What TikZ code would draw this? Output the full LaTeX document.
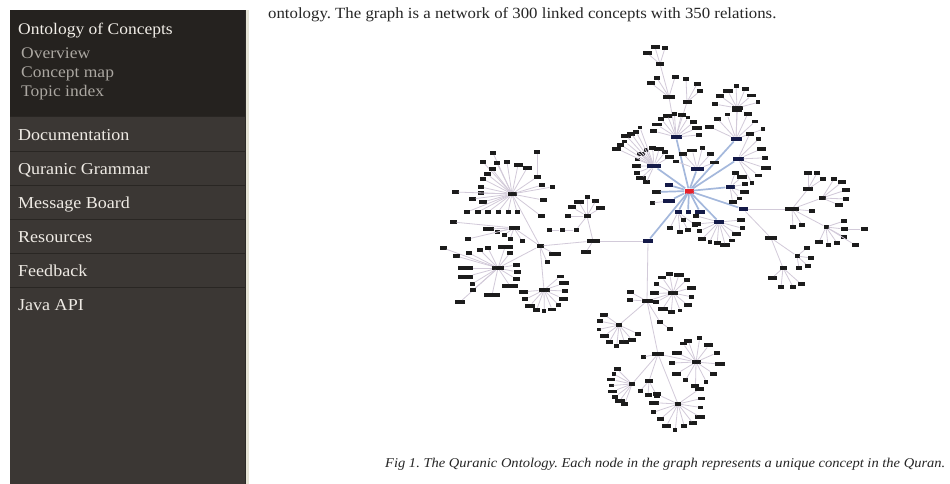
\documentclass[tikz,border=0pt]{standalone}
\usepackage{fontspec}
\setmainfont{Liberation Serif}[FakeStretch=1.08]
\usetikzlibrary{calc}
\frenchspacing

\definecolor{hdbg}{HTML}{25221F}
\definecolor{itbg}{HTML}{3B3734}
\definecolor{sepc}{HTML}{292623}
\definecolor{rimdark}{HTML}{2D2A27}
\definecolor{rimlight}{HTML}{E6E4D6}
\definecolor{headc}{HTML}{F2EEE8}
\definecolor{subc}{HTML}{ABA7A1}
\definecolor{itemc}{HTML}{EEEAE4}
\definecolor{bodyc}{HTML}{262626}
\definecolor{leafc}{HTML}{1C1C1C}
\definecolor{navyc}{HTML}{141A48}
\definecolor{redc}{HTML}{E8202A}
\definecolor{linkc}{HTML}{D2CAD9}
\definecolor{spokec}{HTML}{A4B8DC}

\tikzset{
  leaf/.style={rectangle, fill=leafc, inner sep=0pt, minimum height=3.8, minimum width=7},
  navy/.style={rectangle, fill=navyc, inner sep=0pt, minimum height=4.6, minimum width=11},
  rootn/.style={rectangle, fill=redc, inner sep=0pt, minimum height=5, minimum width=9},
  link/.style={draw=linkc, line width=0.8},
  spoke/.style={draw=spokec, line width=1.7},
  sbhead/.style={anchor=base west, inner sep=0pt, text=headc, font=\fontsize{16.2}{18}\selectfont},
  sbsub/.style={anchor=base west, inner sep=0pt, text=subc, font=\fontsize{16.2}{18}\selectfont},
  sbitem/.style={anchor=base west, inner sep=0pt, text=itemc, font=\fontsize{16.7}{18}\selectfont},
}

% a fan of leaves round a hub: hub, tag, start angle, end angle, count, radius, seed
\newcommand\fanout[7]{%
  \foreach \k in {1,...,#5}{%
    \pgfmathsetmacro\fa{#3+(#4-#3)*(\k-1)/max(#5-1,1)}%
    \pgfmathsetmacro\fw{4+mod(\k*#7,7)}%
    \pgfmathsetmacro\fr{#6+1.5*mod(\k*#7,3)}%
    \node[leaf, minimum width=\fw] (#1#2\k) at ($(#1)+(\fa:\fr)$) {};
    \draw[link] (#1) -- (#1#2\k);
  }}
% leaves at given offsets from a hub: hub, tag, list of dx/dy/width
\newcommand\kids[3]{%
  \foreach \ddx/\ddy/\lw [count=\k] in {#3}{%
    \node[leaf, minimum width=\lw] (#1#2\k) at ($(#1)+(\ddx,\ddy)$) {};
    \draw[link] (#1) -- (#1#2\k);
  }}
\newcommand\lnk[2]{\draw[link] (#1) -- (#2);}
\newcommand\spk[2]{\draw[spoke] (#1) -- (#2);}

\begin{document}
\begin{tikzpicture}[x=1pt, y=-1pt]
\fill[white] (0,0) rectangle (950,484);
% sidebar
\fill[hdbg] (10,10) rectangle (245,117);
\fill[itbg] (10,117) rectangle (245,484);
\foreach \yy in {117,151,185,219,253,287}
  \draw[sepc, line width=1] (10,\yy) -- (245,\yy);
\fill[rimdark] (244.5,10) rectangle (246,484);
\fill[rimlight] (246,10) rectangle (249,484);
\useasboundingbox (0,0) rectangle (950,484);

% sidebar text
\node[sbhead] (t-onto) at (18,35) {Ontology of Concepts};
\node[sbsub] (t-over) at (21,59) {Overview};
\node[sbsub] (t-cmap) at (21,78) {Concept map};
\node[sbsub] (t-topic) at (21,97) {Topic index};
\node[sbitem] (t-doc) at (18,140) {Documentation};
\node[sbitem] (t-gram) at (18,174) {Quranic Grammar};
\node[sbitem] (t-msg) at (18,208) {Message Board};
\node[sbitem] (t-res) at (18,242) {Resources};
\node[sbitem] (t-feed) at (18,276) {Feedback};
\node[sbitem] (t-java) at (18,310) {Java API};

% body text and caption
\node[anchor=base west, inner sep=0pt, text=bodyc, font=\fontsize{15.55}{18}\selectfont] (t-intro) at (268,19)
  {ontology. The graph is a network of 300 linked concepts with 350 relations.};
\node[anchor=base west, inner sep=0pt, text=bodyc, font=\itshape\fontsize{13.45}{16}\selectfont] (t-cap) at (385,467)
  {Fig 1. The Quranic Ontology. Each node in the graph represents a unique concept in the Quran.};

% ---- concept graph ----
\node[rootn] (C) at (689,191) {};

% first ring (blue spokes)
\node[navy] (U1) at (676,137) {};
\node[navy] (U4) at (736,139) {};
\node[navy] (U6) at (738,159) {};
\node[navy, minimum width=14] (U7) at (654,166) {};
\node[navy, minimum width=13] (U8) at (697,169) {};
\node[navy, minimum width=8] (S1) at (669,185) {};
\node[leaf, minimum width=9, minimum height=4] (S2) at (656,192) {};
\node[navy, minimum width=12] (S3) at (669,201) {};
\node[navy, minimum width=9] (U9) at (730,187) {};
\node[navy, minimum width=9] (U10) at (743,209) {};
\node[navy, minimum width=7] (B1) at (678,212) {};
\node[navy, minimum width=5] (B2) at (688,212) {};
\node[navy, minimum width=10] (B3) at (700,212) {};
\node[navy, minimum width=10] (U11) at (719,222) {};
\node[navy, minimum width=10] (D1) at (648,241) {};
\foreach \h in {U1,U4,U6,U7,U8,S1,S2,S3,U9,U10,B1,B2,B3,U11,D1}
  {\spk{C}{\h}}

% upper branch
\node[leaf, minimum width=12] (U2) at (669,97) {};
\node[leaf, minimum width=9] (U2b) at (687,102) {};
\node[leaf, minimum width=8] (U3) at (660,64) {};
\lnk{U1}{U2} \lnk{U1}{U2b} \lnk{U2}{U3}
\kids{U3}{k}{-5/-17/9, 5/-16/6, -13/-11/9}
\kids{U2}{k}{-12/-19/6, -18/-14/8, 6/-20/7}
\kids{U2b}{k}{-1/-23/6, 10/-18/7, 13/-11/6}
\fanout{U1}{f}{-165}{-5}{10}{23}{3}

\node[leaf, minimum width=11] (U5) at (737,108) {};
\lnk{U4}{U5}
\fanout{U5}{f}{-170}{-15}{7}{19}{2}
\fanout{U4}{f}{-155}{-20}{7}{26}{5}
\fanout{U6}{f}{-65}{60}{7}{26}{4}
\fanout{U7}{f}{115}{330}{11}{18}{3}
\fanout{U7}{g}{205}{250}{7}{38}{5}
\fanout{U8}{f}{-160}{-20}{6}{19}{2}
\fanout{U9}{f}{-70}{80}{6}{15}{3}
\kids{B1}{k}{-8/16/6, 2/20/6, 10/18/6, 17/13/6, 5/8/5}
\kids{S3}{k}{-17/2/5}
\fanout{U11}{f}{-5}{195}{11}{21}{4}

% right branch
\node[leaf, minimum width=14] (R1) at (792,209) {};
\node[leaf, minimum width=10] (R2) at (808,189) {};
\node[leaf, minimum width=7] (R3) at (822,198) {};
\node[leaf, minimum width=5] (R4) at (826,227) {};
\lnk{U10}{R1} \lnk{R1}{R2} \lnk{R1}{R3} \lnk{R1}{R4}
\kids{R1}{k}{20/2/6, 1/18/6, 10/16/6}
\kids{R2}{k}{0/-16/8, 9/-16/6, 15/-10/6}
\kids{R3}{k}{12/-19/6, 20/-16/8, 24/-8/8, 24/1/6, 17/7/8}
\kids{R4}{k}{18/-6/6, 18/2/7, 18/10/6, 29/18/7, 11/16/6, 2/18/5, -7/15/8}
\node[leaf, minimum width=7] (R4e) at (864,229) {};
\lnk{R4k2}{R4e}
\node[leaf, minimum width=12] (R5) at (771,238) {};
\node[leaf, minimum width=5] (R6) at (797,256) {};
\node[leaf, minimum width=7] (R7) at (783,268) {};
\lnk{U10}{R5} \lnk{R5}{R6} \lnk{R5}{R7}
\kids{R6}{k}{10/-8/6, 14/2/6, 11/10/6, 2/12/6}
\kids{R7}{k}{-11/10/9, -2/19/6, 10/19/6, 18/16/7}

% lower branch
\node[leaf, minimum width=11] (M1) at (647,301) {};
\node[leaf, minimum width=13] (L0) at (593,241) {};
\lnk{D1}{M1} \lnk{D1}{L0}
\kids{M1}{k}{-17/-9/7, -17/-1/6}
\node[leaf, minimum width=10] (MF1) at (673,293) {};
\lnk{M1}{MF1}
\fanout{MF1}{f}{-100}{235}{13}{19}{3}
\node[leaf, minimum width=6] (ML1) at (619,325) {};
\lnk{M1}{ML1}
\fanout{ML1}{f}{25}{215}{9}{18}{2}
\node[leaf, minimum width=6] (Mc1) at (660,322) {};
\node[leaf, minimum width=6] (Mc2) at (670,329) {};
\lnk{M1}{Mc1} \lnk{Mc1}{Mc2}
\node[leaf, minimum width=12] (M2) at (658,354) {};
\lnk{M1}{M2}
\kids{M2}{k}{-15/3/5}
\node[leaf, minimum width=9] (MF2) at (696,362) {};
\lnk{M2}{MF2}
\fanout{MF2}{f}{-110}{235}{13}{21}{4}
\node[leaf, minimum width=6] (ML2) at (632,384) {};
\lnk{M2}{ML2}
\fanout{ML2}{f}{110}{225}{8}{21}{3}
\node[leaf, minimum width=8] (Mc3) at (649,381) {};
\lnk{M2}{Mc3}
\kids{Mc3}{k}{-9/10/5, -1/14/7, 8/15/6}
\node[leaf, minimum width=6] (MF3) at (678,404) {};
\lnk{M2}{MF3}
\fanout{MF3}{f}{-35}{205}{12}{23}{5}

% left branch
\kids{L0}{k}{-7/11/10}
\node[leaf, minimum width=7] (L1) at (587,216) {};
\lnk{L0}{L1}
\fanout{L1}{f}{-180}{-30}{6}{16}{2}
\node[leaf, minimum width=5] (Lc1) at (576,230) {};
\node[leaf, minimum width=5] (Lc2) at (562,230) {};
\node[leaf, minimum width=5] (Lc3) at (549,230) {};
\lnk{L1}{Lc1} \lnk{Lc1}{Lc2} \lnk{Lc2}{Lc3}
\node[leaf, minimum width=7] (L2) at (540,246) {};
\lnk{L0}{L2}
\kids{L2}{k}{15/8/12, 7/16/5}
\node[leaf, minimum width=11] (L3) at (514,228) {};
\node[leaf, minimum width=9] (L4) at (512,194) {};
\node[leaf, minimum width=12] (L5) at (498,268) {};
\node[leaf, minimum width=11] (L6) at (544,290) {};
\lnk{L2}{L3} \lnk{L2}{L4} \lnk{L2}{L5} \lnk{L2}{L6}
\kids{L3}{k}{-26/1/11, -17/4/5, -10/7/5, -4/11/5, 8/13/5, -46/11/6, -61/-6/7}
\kids{L4}{k}{-19/-41/6, -29/-32/6, -15/-31/6, -5/-32/6, 6/-29/9, 15/-26/9,
  -20/-25/7, -25/-20/7, -29/-15/6, -31/-7/6, -31/-1/6, -29/8/8, -40/5/7,
  -57/-2/7, -45/18/6, -34/18/6, -24/18/6, -14/18/5, -4/18/5, 5/18/5,
  25/-17/7, 30/-9/6, 31/6/7, 29/22/7, 40/-7/5}
\node[leaf, minimum width=6] (L4t) at (537,152) {};
\lnk{L4k21}{L4t}
\kids{L5}{k}{-33/0/15, -33/9/15, 12/18/16, -6/27/16, -38/34/10, -26/16/5,
  -25/22/6, 12/-15/6, 7/-21/15, 18/-3/7, 19/4/7, 18/11/7, -29/-15/6,
  -18/-18/6, -10/-20/6, -55/-20/7, -42/-12/7}
\fanout{L6}{f}{-40}{175}{11}{21}{3}
\end{tikzpicture}
\end{document}
